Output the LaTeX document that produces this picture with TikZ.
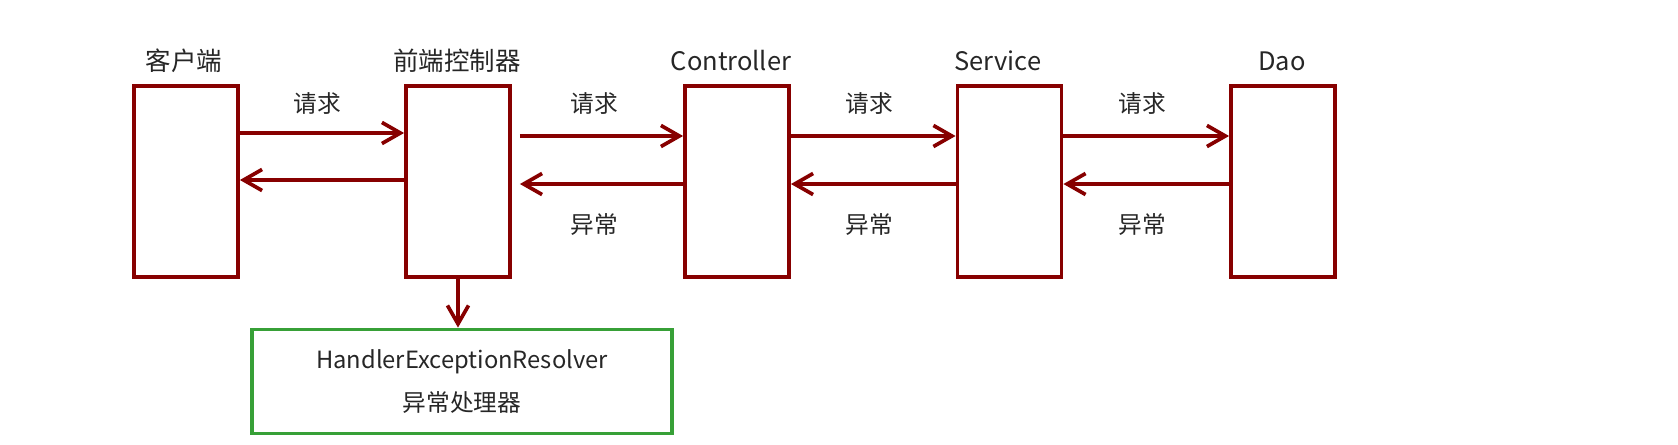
\documentclass[tikz,border=0pt]{standalone}
\usepackage{fontspec}
\setmainfont{Noto Sans CJK SC}
\usetikzlibrary{arrows.meta,calc}
\definecolor{darkred}{RGB}{135,0,0}
\definecolor{boxgreen}{RGB}{55,160,55}
\tikzset{
  layer/.style={draw=darkred, line width=2.2pt, minimum width=2.08cm, minimum height=3.82cm},
  title/.style={font=\fontsize{14.5}{16}\selectfont, text=black!85},
  lbl/.style={font=\fontsize{13.5}{15}\selectfont, text=black!85},
  flow/.style={draw=darkred, line width=2.1pt, -{Straight Barb[length=10.5pt,width=12pt,line width=2.1pt]}},
}
\begin{document}
\begin{tikzpicture}[x=0.02cm, y=-0.02cm]
\useasboundingbox (0,0) rectangle (1678,444);
\node[layer] (cli) at (186,181.5) {};
\node[layer] (fc) at (458,181.5) {};
\node[layer] (ctl) at (737,181.5) {};
\node[layer] (svc) at (1009.5,181.5) {};
\node[layer] (dao) at (1283,181.5) {};

\node[title] (tcli) at (184,61) {客户端};
\node[title] (tfc) at (457,61) {前端控制器};
\node[title] (tctl) at (731,61) {Controller};
\node[title] (tsvc) at (998,61) {Service};
\node[title] (tdao) at (1282,61) {Dao};

\node[draw=boxgreen, line width=2.2pt, minimum width=8.4cm, minimum height=2.08cm, align=center,
      font=\fontsize{13.5}{24.5}\selectfont, text=black!85] (her) at (462,381.5)
      {HandlerExceptionResolver\\异常处理器};

% requests
\draw[flow] ($(cli.east)+(0,-48.5)$) -- ($(fc.west)+(0,-48.5)$);
\draw[flow] ($(fc.east)+(8,-45.5)$) -- ($(ctl.west)+(0,-45.5)$);
\draw[flow] ($(ctl.east)+(0,-45.5)$) -- ($(svc.west)+(0,-45.5)$);
\draw[flow] ($(svc.east)+(0,-45.5)$) -- ($(dao.west)+(0,-45.5)$);
% exceptions
\draw[flow] ($(fc.west)+(0,-1.5)$) -- ($(cli.east)+(0,-1.5)$);
\draw[flow] ($(ctl.west)+(0,2.5)$) -- ($(fc.east)+(8,2.5)$);
\draw[flow] ($(svc.west)+(0,2.5)$) -- ($(ctl.east)+(0,2.5)$);
\draw[flow] ($(dao.west)+(0,2.5)$) -- ($(svc.east)+(0,2.5)$);
\draw[flow] (fc.south) -- (fc.south |- her.north);

\node[lbl] (q1) at (317,104) {请求};
\node[lbl] (q2) at (594,104) {请求};
\node[lbl] (q3) at (869,104) {请求};
\node[lbl] (q4) at (1142,104) {请求};
\node[lbl] (e2) at (594,225) {异常};
\node[lbl] (e3) at (869,225) {异常};
\node[lbl] (e4) at (1142,225) {异常};
\end{tikzpicture}
\end{document}
